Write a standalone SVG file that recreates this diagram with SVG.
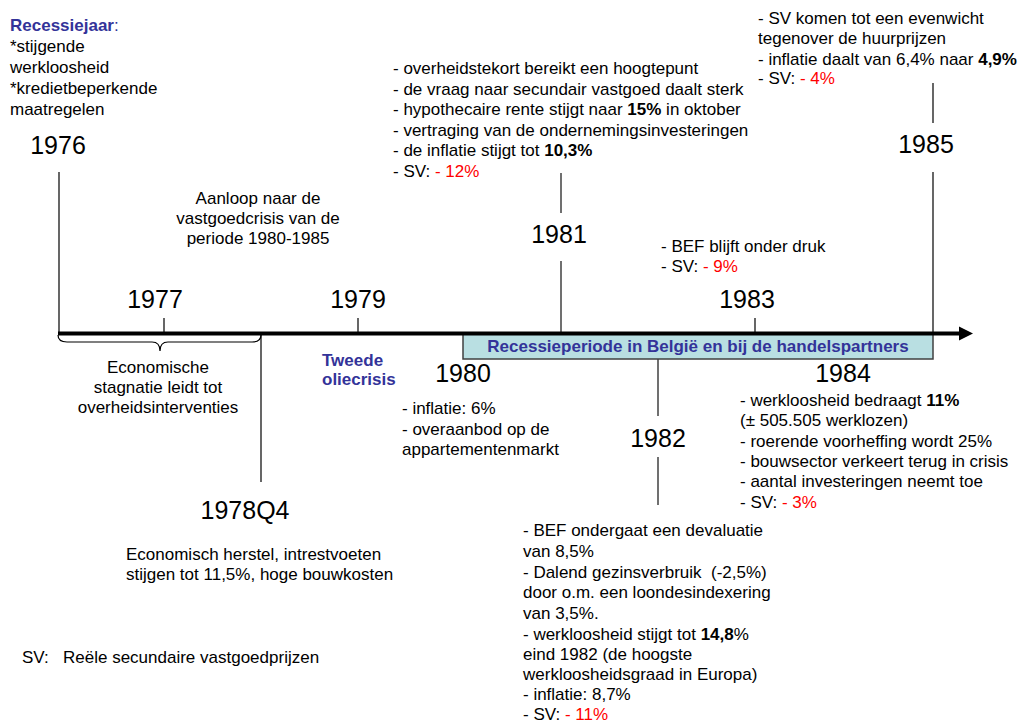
<svg xmlns="http://www.w3.org/2000/svg" width="1022" height="722" viewBox="0 0 1022 722">
<style>
text{font-family:"Liberation Sans",Arial,sans-serif;fill:#000}
.t{font-size:17px}
.y{font-size:25px}
.c{text-anchor:middle}
.b{font-weight:bold}
.blue{fill:#333399}
.red{fill:#ff0000}
.ln{stroke:#000;stroke-width:1.2;fill:none}
.gr{stroke:#707070;stroke-width:2;fill:none}
</style>
<rect width="1022" height="722" fill="#fff"/>
<g id="connectors">
  <line class="ln" x1="59" y1="172" x2="59" y2="334"/>
  <line class="ln" x1="164" y1="318" x2="164" y2="333"/>
  <line class="ln" x1="358" y1="318" x2="358" y2="333"/>
  <line class="ln" x1="755" y1="318" x2="755" y2="333"/>
  <line class="gr" x1="561" y1="173" x2="561" y2="213"/>
  <line class="gr" x1="561" y1="261" x2="561" y2="334"/>
  <line class="ln" x1="933" y1="83" x2="933" y2="123"/>
  <line class="ln" x1="933" y1="172" x2="933" y2="334"/>
  <line class="ln" x1="261" y1="335" x2="261" y2="482"/>
  <line class="gr" x1="658" y1="359" x2="658" y2="416"/>
  <line class="gr" x1="658" y1="457" x2="658" y2="505"/>
  <path class="ln" d="M58,335 Q58,342 67,342 L152,342 Q160,342 160,351 Q160,342 168,342 L252,342 Q261,342 261,335"/>
</g>
<g id="recession-period">
  <rect x="463" y="334" width="470" height="25" fill="#b9dfe2" stroke="#404040" stroke-width="1.5"/>
  <text class="t b blue c" x="698" y="352">Recessieperiode in België en bij de handelspartners</text>
</g>
<g id="axis">
  <line x1="58" y1="333.5" x2="962" y2="333.5" stroke="#000" stroke-width="4"/>
  <polygon points="959,326.5 973,333.5 959,340.5" fill="#000"/>
</g>
<g id="legend-recessiejaar">
  <text class="t" x="10" y="31"><tspan class="b blue">Recessiejaar</tspan><tspan class="blue">:</tspan></text>
  <text class="t" x="10" y="52">*stijgende</text>
  <text class="t" x="10" y="73">werkloosheid</text>
  <text class="t" x="10" y="94">*kredietbeperkende</text>
  <text class="t" x="10" y="115">maatregelen</text>
</g>
<g id="y1976"><text class="y c" x="58" y="154">1976</text></g>
<g id="aanloop">
  <text class="t c" x="258" y="204">Aanloop naar de</text>
  <text class="t c" x="258" y="224">vastgoedcrisis van de</text>
  <text class="t c" x="258" y="244">periode 1980-1985</text>
</g>
<g id="y1977"><text class="y c" x="155" y="308">1977</text></g>
<g id="y1979"><text class="y c" x="358" y="308">1979</text></g>
<g id="stagnatie">
  <text class="t c" x="158" y="373">Economische</text>
  <text class="t c" x="158" y="393">stagnatie leidt tot</text>
  <text class="t c" x="158" y="413">overheidsinterventies</text>
</g>
<g id="oliecrisis">
  <text class="t b blue" x="322" y="366">Tweede</text>
  <text class="t b blue" x="322" y="385">oliecrisis</text>
</g>
<g id="y1978Q4">
  <text class="y c" x="245" y="519">1978Q4</text>
  <text class="t" x="126" y="560">Economisch herstel, intrestvoeten</text>
  <text class="t" x="126" y="580">stijgen tot 11,5%, hoge bouwkosten</text>
</g>
<g id="note-sv">
  <text class="t" x="22" y="663">SV:</text>
  <text class="t" x="63" y="663">Reële secundaire vastgoedprijzen</text>
</g>
<g id="y1980">
  <text class="y c" x="463" y="382">1980</text>
  <text class="t" x="402" y="414">- inflatie: 6%</text>
  <text class="t" x="402" y="435">- overaanbod op de</text>
  <text class="t" x="402" y="455">appartementenmarkt</text>
</g>
<g id="y1981">
  <text class="t" x="393" y="74">- overheidstekort bereikt een hoogtepunt</text>
  <text class="t" x="393" y="94.5">- de vraag naar secundair vastgoed daalt sterk</text>
  <text class="t" x="393" y="115">- hypothecaire rente stijgt naar <tspan class="b">15%</tspan> in oktober</text>
  <text class="t" x="393" y="135.5">- vertraging van de ondernemingsinvesteringen</text>
  <text class="t" x="393" y="156">- de inflatie stijgt tot <tspan class="b">10,3%</tspan></text>
  <text class="t" x="393" y="176.5">- SV: <tspan class="red">- 12%</tspan></text>
  <text class="y c" x="559" y="243">1981</text>
</g>
<g id="y1982">
  <text class="y c" x="658" y="447">1982</text>
  <text class="t" x="523" y="536">- BEF ondergaat een devaluatie</text>
  <text class="t" x="523" y="557">van 8,5%</text>
  <text class="t" x="523" y="578" style="white-space:pre">- Dalend gezinsverbruik  (-2,5%)</text>
  <text class="t" x="523" y="598">door o.m. een loondesindexering</text>
  <text class="t" x="523" y="619">van 3,5%.</text>
  <text class="t" x="523" y="640">- werkloosheid stijgt tot <tspan class="b">14,8</tspan>%</text>
  <text class="t" x="523" y="660">eind 1982 (de hoogste</text>
  <text class="t" x="523" y="680">werkloosheidsgraad in Europa)</text>
  <text class="t" x="523" y="700">- inflatie: 8,7%</text>
  <text class="t" x="523" y="720">- SV: <tspan class="red">- 11%</tspan></text>
</g>
<g id="y1983">
  <text class="t" x="661" y="252">- BEF blijft onder druk</text>
  <text class="t" x="661" y="272">- SV: <tspan class="red">- 9%</tspan></text>
  <text class="y c" x="747" y="308">1983</text>
</g>
<g id="y1984">
  <text class="y c" x="843" y="382">1984</text>
  <text class="t" x="740" y="406">- werkloosheid bedraagt <tspan class="b">11%</tspan></text>
  <text class="t" x="740" y="426">(± 505.505 werklozen)</text>
  <text class="t" x="740" y="447">- roerende voorheffing wordt 25%</text>
  <text class="t" x="740" y="467">- bouwsector verkeert terug in crisis</text>
  <text class="t" x="740" y="487">- aantal investeringen neemt toe</text>
  <text class="t" x="740" y="508">- SV: <tspan class="red">- 3%</tspan></text>
</g>
<g id="y1985">
  <text class="t" x="758" y="24">- SV komen tot een evenwicht</text>
  <text class="t" x="758" y="44">tegenover de huurprijzen</text>
  <text class="t" x="758" y="65">- inflatie daalt van 6,4% naar <tspan class="b">4,9%</tspan></text>
  <text class="t" x="758" y="84">- SV: <tspan class="red">- 4%</tspan></text>
  <text class="y c" x="926" y="153">1985</text>
</g>
</svg>
